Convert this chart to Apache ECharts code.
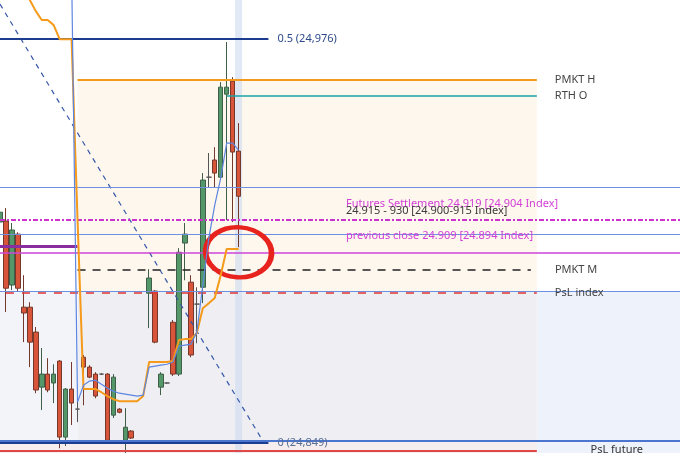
<!DOCTYPE html>
<html>
<head>
<meta charset="utf-8">
<script src="https://cdn.jsdelivr.net/npm/echarts@6/dist/echarts.min.js"></script>
<style>
  html, body { margin: 0; padding: 0; background: #ffffff; }
  #main { width: 680px; height: 453px; }
</style>
</head>
<body>
<div id="main"></div>
<script>
var chartDom = document.getElementById('main');
var myChart = echarts.init(chartDom);
var option;

// bar slots (one per candle, plus empty room to the right)
const categories = Array.from({ length: 115 }, (_, i) => 'bar ' + i);

// candles: [open, close, low, high]
const candles = [
  [24918.5, 24921.6, 24912.2, 24927.0],
  [24918.8, 24897.7, 24890.2, 24922.9],
  [24898.7, 24916.0, 24897.1, 24918.2],
  [24914.7, 24897.7, 24896.8, 24915.3],
  [24891.75, 24889.9, 24880.75, 24901.8],
  [24891.75, 24880.75, 24872.9, 24893.3],
  [24883.9, 24865.7, 24864.7, 24885.5],
  [24866.6, 24870.7, 24859.4, 24878.9],
  [24870.7, 24865.7, 24865.0, 24875.7],
  [24867.9, 24870.7, 24861.6, 24873.8],
  [24874.8, 24850.9, 24847.4, 24875.1],
  [24850.9, 24866.0, 24848.1, 24866.3],
  [24866.0, 24861.6, 24854.7, 24874.5],
  [24859.7, 24859.7, 24855.6, 24863.8],
  [24876.0, 24872.9, 24860.9, 24876.7],
  [24872.9, 24869.75, 24869.4, 24873.5],
  [24870.7, 24863.8, 24863.1, 24871.3],
  [24870.7, 24870.7, 24870.4, 24871.0],
  [24870.7, 24849.9, 24849.6, 24871.0],
  [24857.8, 24869.75, 24856.9, 24870.7],
  [24859.7, 24858.7, 24858.4, 24860.0],
  [24849.9, 24854.0, 24845.2, 24860.0],
  [24852.8, 24850.6, 24850.3, 24853.1],
  ['-', '-', '-', '-'],
  ['-', '-', '-', '-'],
  [24896.15, 24900.9, 24885.15, 24903.7],
  [24896.8, 24880.75, 24880.4, 24897.1],
  [24866.6, 24870.7, 24864.1, 24871.3],
  [24867.9, 24867.9, 24867.7, 24868.1],
  [24887.0, 24870.7, 24870.1, 24887.7],
  [24870.7, 24909.0, 24870.1, 24910.3],
  [24911.9, 24914.7, 24900.2, 24918.2],
  [24899.6, 24876.7, 24876.0, 24901.8],
  [24892.7, 24892.7, 24880.4, 24898.0],
  [24898.0, 24931.7, 24893.0, 24933.9],
  [24932.6, 24932.6, 24929.2, 24940.2],
  [24938.0, 24933.9, 24929.5, 24942.05],
  [24932.6, 24960.9, 24932.3, 24962.5],
  [24958.7, 24960.9, 24919.1, 24975.1],
  [24962.8, 24940.5, 24918.5, 24964.05],
  [24940.8, 24926.6, 24910.6, 24949.6]
];

// stepped orange average
const orangeLine = ['-', '-', '-', '-',
  24991.7, 24988.3, 24984.8, 24982.0, 24982.0, 24980.4, 24976.0, 24976.0, 24976.0,
  24919.1, 24866.0, 24866.0, 24866.0, 24865.0, 24863.8, 24862.8, 24862.2, 24862.2,
  24862.2, 24862.2, 24863.8, 24874.5, 24874.5, 24874.5, 24874.5, 24874.8, 24881.4,
  24881.7, 24881.7, 24883.6, 24891.4, 24893.0, 24894.6, 24901.8, 24910.0, 24910.0, 24910.0];

// thin blue average
const blueLine = ['-', '-', '-', '-', '-', '-', '-', '-', '-', '-', '-', '-',
  24997.7, 24861.9, 24867.2, 24868.5, 24868.8, 24867.55, 24866.3, 24865.35, 24864.7,
  24864.4, 24864.1, 24863.8, 24864.1, 24872.9, 24873.2, 24873.5, 24873.8, 24874.5,
  24879.5, 24879.8, 24880.1, 24883.9, 24898.7, 24913.4, 24923.8, 24932.3, 24943.3,
  24943.3, 24941.1];

// fib trend line ends
const fibTrend = [[0, 24987.0], [44, 24849.9]];

// levels
const fibHigh = 24976;
const fibLow = 24849;
const pmktH = 24963.1;
const rthO = 24958.1;
const pmktM = 24903.4;
const pslIndex = 24896.15;
const futSettle = 24919.1;
const prevClose = 24909.0;
const prevDayLine = 24910.9;
const rangeTop = 24929.5;
const rangeBottom = 24914.7;
const zoneEdge = 24896.8;
const floorLine = 24849.9;
const pslFuture = 24846.5;

const yMin = 24845.9;
const yMax = 24988.3;

const fontFamily = '"Noto Sans", "DejaVu Sans", sans-serif';

function hLine(y, x0, x1, style, label) {
  const item = [
    { coord: [x0, y], lineStyle: style },
    { coord: [x1, y] }
  ];
  item[0].label = label ? label : { show: false };
  return item;
}

function sideLabel(text, dist, color) {
  return {
    show: true,
    position: 'end',
    distance: dist,
    formatter: text,
    color: color || '#444',
    fontSize: 11,
    fontFamily: fontFamily
  };
}

function textMark(x, y, text, color) {
  return {
    coord: [x, y],
    symbol: 'circle',
    symbolSize: 0,
    label: {
      show: true,
      position: 'right',
      distance: 0,
      formatter: text,
      color: color,
      fontSize: 11,
      fontFamily: fontFamily
    }
  };
}

option = {
  animation: false,
  backgroundColor: '#ffffff',
  grid: { left: 0, top: 0, width: 684, height: 453 },
  xAxis: {
    type: 'category',
    data: categories,
    boundaryGap: false,
    show: false
  },
  yAxis: {
    type: 'value',
    min: yMin,
    max: yMax,
    show: false,
    splitLine: { show: false }
  },
  series: [
    {
      name: 'zones',
      type: 'line',
      data: [],
      z: 0,
      silent: true,
      markArea: {
        silent: true,
        data: [
          [{ coord: [13, pmktH], itemStyle: { color: '#fdf7ed' } }, { coord: [90, zoneEdge] }],
          [{ coord: [13, zoneEdge], itemStyle: { color: '#efeff3' } }, { coord: [90, yMin] }],
          [{ coord: [90, zoneEdge], itemStyle: { color: '#eef2fb' } }, { coord: [114, yMin] }],
          [{ coord: [0, zoneEdge], itemStyle: { color: '#f2f4fa' } }, { coord: [13, yMin] }],
          [{ coord: [0, floorLine], itemStyle: { color: '#f6eeee' } }, { coord: [90, yMin] }]
        ]
      }
    },
    {
      name: 'highlight',
      type: 'bar',
      data: categories.map((c, i) => (i === 40 ? yMax : '-')),
      barWidth: 7,
      z: 1,
      silent: true,
      itemStyle: { color: 'rgba(205,218,242,0.6)' }
    },
    {
      name: 'levels',
      type: 'line',
      data: [],
      z: 2,
      silent: true,
      markLine: {
        silent: true,
        symbol: ['none', 'none'],
        data: [
          hLine(rangeTop, 0, 114, { color: '#6f8fe0', width: 1, type: 'solid' }),
          hLine(rangeBottom, 0, 114, { color: '#6f8fe0', width: 1, type: 'solid' }),
          hLine(zoneEdge, 0, 114, { color: '#6f8fe0', width: 1, type: 'solid' }),
          hLine(floorLine, 0, 114, { color: '#4a76cf', width: 2, type: 'solid' }),
          hLine(futSettle, 0, 114, { color: '#cc33cc', width: 2, type: [5, 2, 2, 2] }),
          hLine(prevClose, 0, 114, { color: '#cc44d8', width: 1.5, type: 'solid' }),
          hLine(prevDayLine, 0, 13, { color: '#8a2d9e', width: 3, type: 'solid' }),
          hLine(pmktH, 13, 90, { color: '#f39a1c', width: 2, type: 'solid' },
            sideLabel('PMKT H', 18)),
          hLine(rthO, 38, 90, { color: '#19a5a5', width: 1.5, type: 'solid' },
            sideLabel('RTH O', 18)),
          hLine(pmktM, 13, 89, { color: '#222222', width: 1.5, type: [8, 7] },
            sideLabel('PMKT M', 24)),
          hLine(pslIndex, 1, 90, { color: '#e03434', width: 1.5, type: [8, 8] },
            sideLabel('PsL index', 18)),
          hLine(pslFuture, 0, 90, { color: '#e04848', width: 2, type: 'solid' }),
          hLine(fibHigh, 0, 45, { color: '#1c3d8f', width: 2, type: 'solid' },
            sideLabel('0.5 (24,976)', 9, '#2c4a8a')),
          hLine(fibLow, 0, 45, { color: '#1c3d8f', width: 2, type: 'solid' },
            sideLabel('0 (24,849)', 9, '#5a6f96'))
        ]
      }
    },
    {
      name: 'price',
      type: 'candlestick',
      data: candles,
      barWidth: 5,
      z: 3,
      itemStyle: {
        color: '#54986a',
        color0: '#d9553a',
        borderColor: '#3f5f49',
        borderColor0: '#74392c',
        borderColorDoji: '#555555',
        borderWidth: 1
      }
    },
    {
      name: 'fib trend',
      type: 'line',
      data: fibTrend,
      z: 4,
      symbol: 'none',
      silent: true,
      lineStyle: { color: '#3556a8', width: 1.2, type: [5, 5] }
    },
    {
      name: 'orange avg',
      type: 'line',
      data: orangeLine,
      z: 5,
      symbol: 'none',
      silent: true,
      lineStyle: { color: '#f59a1a', width: 2 }
    },
    {
      name: 'blue avg',
      type: 'line',
      data: blueLine,
      z: 5,
      symbol: 'none',
      silent: true,
      lineStyle: { color: '#5d86e0', width: 1.2 }
    },
    {
      name: 'notes',
      type: 'line',
      data: [],
      z: 6,
      silent: true,
      markPoint: {
        silent: true,
        data: [
          textMark(57.5, 24924.1, 'Futures Settlement 24.919 [24.904 Index]', '#d240d6'),
          textMark(57.5, 24921.9, '24.915 - 930 [24.900-915 Index]', '#3a3a3a'),
          textMark(57.5, 24914.1, 'previous close 24.909 [24.894 Index]', '#d240d6'),
          textMark(98.7, 24846.9, 'PsL future', '#333333'),
          textMark(94.7, 24843.6, 'PsL H', '#333333'),
          {
            coord: [40, prevClose],
            symbol: 'circle',
            symbolSize: [66, 50],
            symbolRotate: -4,
            label: { show: false },
            itemStyle: { color: 'rgba(0,0,0,0)', borderColor: '#e8221d', borderWidth: 5 }
          }
        ]
      }
    }
  ]
};

option && myChart.setOption(option);
</script>
</body>
</html>
